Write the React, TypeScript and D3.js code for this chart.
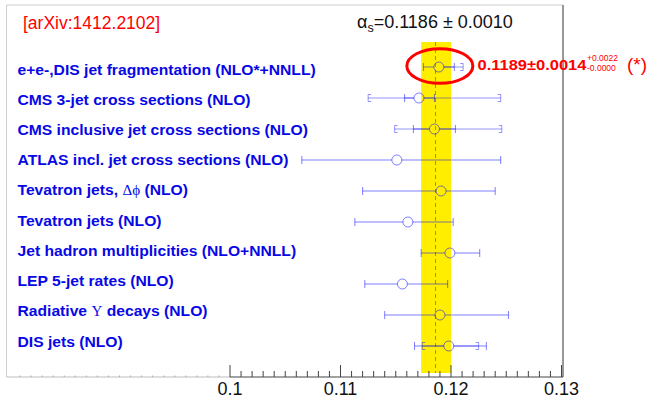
import React from 'react';
import * as d3 from 'd3';

// Determinations of the strong coupling (one row per method)
const methods = [
  'e+e-,DIS jet fragmentation (NLO*+NNLL)',
  'CMS 3-jet cross sections (NLO)',
  'CMS inclusive jet cross sections (NLO)',
  'ATLAS incl. jet cross sections (NLO)',
  'Tevatron jets, Δϕ (NLO)',
  'Tevatron jets (NLO)',
  'Jet hadron multiplicities (NLO+NNLL)',
  'LEP 5-jet rates (NLO)',
  'Radiative Υ decays (NLO)',
  'DIS jets (NLO)',
];
const central = [0.1189, 0.1171, 0.1185, 0.1151, 0.1191, 0.1161, 0.1199, 0.1156, 0.119, 0.1198];
// interval closed by plain end ticks
const tickLow = [0.1175, 0.1158, 0.1166, 0.1065, 0.112, 0.1113, 0.1173, 0.1122, 0.114, 0.1167];
const tickHigh = [0.1203, 0.1185, 0.1204, 0.1245, 0.124, 0.1202, 0.1226, 0.1197, 0.1252, 0.1232];
// interval closed by square brackets (null where absent)
const bracketLow: (number | null)[] = [0.1189, 0.1125, 0.1149, null, null, null, null, null, null, 0.1174];
const bracketHigh: (number | null)[] = [0.1211, 0.1245, 0.1246, null, null, null, null, null, null, 0.1225];

// world average and its band
const worldAverage = [0.1186];
const worldError = [0.001];
const bandLow = [0.1173];
const bandHigh = [0.12];

// highlighted result
const highlightErrUp = [0.0022];
const highlightErrDown = [0.0];

const majorTicks = [0.1, 0.11, 0.12, 0.13];
const tickLabels = ['0.1', '0.11', '0.12', '0.13'];

const W = 652;
const H = 399;
const FRAME = { left: 6.5, top: 5, right: 563, bottom: 377 };

const BLUE = '#0000ff';
const LABEL_BLUE = '#0808e6';
const RED = '#ff0000';
const SANS = '"Liberation Sans", Arial, Helvetica, sans-serif';
const SERIF = '"Liberation Serif", "DejaVu Serif", serif';

function LabelText({ text, x, y }: { text: string; x: number; y: number }) {
  const parts = text.split(/([\u0370-\u03FF]+)/).filter((p) => p.length > 0);
  return (
    <text
      transform={`translate(${x},${y}) scale(1.08,1)`}
      fontFamily={SANS}
      fontWeight="bold"
      fontSize={14.5}
      fill={LABEL_BLUE}
    >
      {parts.map((p, i) =>
        /[\u0370-\u03FF]/.test(p) ? (
          <tspan key={i} fontFamily={SERIF} fontWeight="normal" fontSize={14}>
            {p}
          </tspan>
        ) : (
          <tspan key={i} style={{ whiteSpace: 'pre' }}>
            {p}
          </tspan>
        )
      )}
    </text>
  );
}

export default function App() {
  const x = d3.scaleLinear().domain([0.08, 0.13]).range([9, 561.5]);
  const y = d3.scalePoint<string>().domain(methods).range([67, 346]);
  // text rows are laid out slightly tighter than the markers
  const yLabel = d3.scalePoint<string>().domain(methods).range([74.5, 346.5]);
  const r = 5;

  const minorTicks = d3
    .range(0, 31)
    .map((i) => 0.1 + i * 0.001)
    .filter((v) => !majorTicks.some((m) => Math.abs(m - v) < 1e-9));
  const tinyTicks = d3.range(1, 20).map((i) => 0.08 + i * 0.001);

  const bandTop = 42;
  const bandBottom = 373;

  const segments = (cx: number, lo: number, hi: number) => {
    const out: [number, number][] = [];
    if (lo < cx - r) out.push([lo, cx - r]);
    if (hi > cx + r) out.push([cx + r, hi]);
    return out;
  };

  const hx = x(central[0]);
  const hy = y(methods[0]) as number;

  return (
    <svg width={W} height={H} style={{ position: 'absolute', left: 0, top: 0, background: '#fff' }}>
      <rect x={0} y={0} width={W} height={H} fill="#fff" />

      {/* world-average band and central line */}
      <rect
        x={x(bandLow[0])}
        y={bandTop}
        width={x(bandHigh[0]) - x(bandLow[0])}
        height={bandBottom - bandTop}
        fill="#ffee00"
      />
      <line
        x1={x(worldAverage[0])}
        x2={x(worldAverage[0])}
        y1={bandTop}
        y2={bandBottom}
        stroke="#8a8a8a"
        strokeWidth={1}
        strokeDasharray="4,3"
      />

      {/* frame */}
      <line x1={FRAME.left} x2={FRAME.right} y1={FRAME.top} y2={FRAME.top} stroke="#cfcfcf" />
      <line x1={FRAME.left} x2={FRAME.left} y1={FRAME.top} y2={FRAME.bottom} stroke="#cfcfcf" />
      <line x1={FRAME.right} x2={FRAME.right} y1={FRAME.top} y2={FRAME.bottom} stroke="#333" />
      <line x1={FRAME.left} x2={x(0.1)} y1={FRAME.bottom} y2={FRAME.bottom} stroke="#bdbdbd" />
      <line x1={x(0.1)} x2={FRAME.right} y1={FRAME.bottom} y2={FRAME.bottom} stroke="#444" />

      {/* axis ticks */}
      {tinyTicks.map((v, i) => (
        <line key={'t' + i} x1={x(v)} x2={x(v)} y1={FRAME.bottom} y2={FRAME.bottom - 1.5} stroke="#aaa" />
      ))}
      {minorTicks.map((v, i) => (
        <line key={'m' + i} x1={x(v)} x2={x(v)} y1={FRAME.bottom} y2={FRAME.bottom - 6} stroke="#444" />
      ))}
      {majorTicks.map((v, i) => (
        <g key={'M' + i}>
          <line x1={x(v)} x2={x(v)} y1={FRAME.bottom} y2={FRAME.bottom - 12} stroke="#444" />
          <text x={x(v)} y={395} textAnchor="middle" fontFamily={SANS} fontSize={18} fill="#111">
            {tickLabels[i]}
          </text>
        </g>
      ))}

      {/* labels */}
      <text x={23} y={29} fontFamily={SANS} fontSize={17.5} fill={RED}>
        [arXiv:1412.2102]
      </text>
      <text x={357} y={28} fontFamily={SANS} fontSize={18} fill="#111">
        α
        <tspan fontSize={12.5} dy={4}>s</tspan>
        <tspan dy={-4}>{`=${worldAverage[0].toFixed(4)} ± ${worldError[0].toFixed(4)}`}</tspan>
      </text>

      {methods.map((m) => (
        <LabelText key={m} text={m} x={17.5} y={yLabel(m) as number} />
      ))}

      {/* measurements */}
      {methods.map((m, i) => {
        const cy = y(m) as number;
        const cx = x(central[i]);
        const tl = x(tickLow[i]);
        const th = x(tickHigh[i]);
        const bl = bracketLow[i] != null ? x(bracketLow[i] as number) : null;
        const bh = bracketHigh[i] != null ? x(bracketHigh[i] as number) : null;
        return (
          <g key={m} stroke={BLUE} fill="none" strokeWidth={1}>
            <g strokeOpacity={0.5}>
              {segments(cx, tl, th).map(([a, b], k) => (
                <line key={k} x1={a} x2={b} y1={cy} y2={cy} />
              ))}
              <line x1={tl} x2={tl} y1={cy - 4} y2={cy + 4} />
              <line x1={th} x2={th} y1={cy - 4} y2={cy + 4} />
            </g>
            {bl != null && bh != null && (
              <g strokeOpacity={0.42}>
                {segments(cx, bl, bh).map(([a, b], k) => (
                  <line key={k} x1={a} x2={b} y1={cy} y2={cy} />
                ))}
                {Math.abs(bl - cx) > r && <path d={`M${bl + 3},${cy - 3.5}H${bl}V${cy + 3.5}H${bl + 3}`} />}
                {Math.abs(bh - cx) > r && <path d={`M${bh - 3},${cy - 3.5}H${bh}V${cy + 3.5}H${bh - 3}`} />}
              </g>
            )}
            <circle cx={cx} cy={cy} r={r} strokeOpacity={0.5} />
          </g>
        );
      })}

      {/* highlighted result */}
      <ellipse cx={hx + 1} cy={hy - 1} rx={33} ry={17.3} fill="none" stroke={RED} strokeWidth={3} />
      <text transform={`translate(477.5,69.5) scale(1.1,1)`} fontFamily={SANS} fontWeight="bold" fontSize={15} fill={RED}>
        {`${central[0].toFixed(4)}±${(tickHigh[0] - central[0]).toFixed(4)}`}
      </text>
      <text x={587} y={61} fontFamily={SANS} fontSize={8.5} fill={RED}>
        {`+${highlightErrUp[0].toFixed(4)}`}
      </text>
      <text x={587} y={70.5} fontFamily={SANS} fontSize={8.5} fill={RED}>
        {`-${highlightErrDown[0].toFixed(4)}`}
      </text>
      <text x={627} y={71} fontFamily={SANS} fontSize={19} fill={RED}>
        (*)
      </text>
    </svg>
  );
}
